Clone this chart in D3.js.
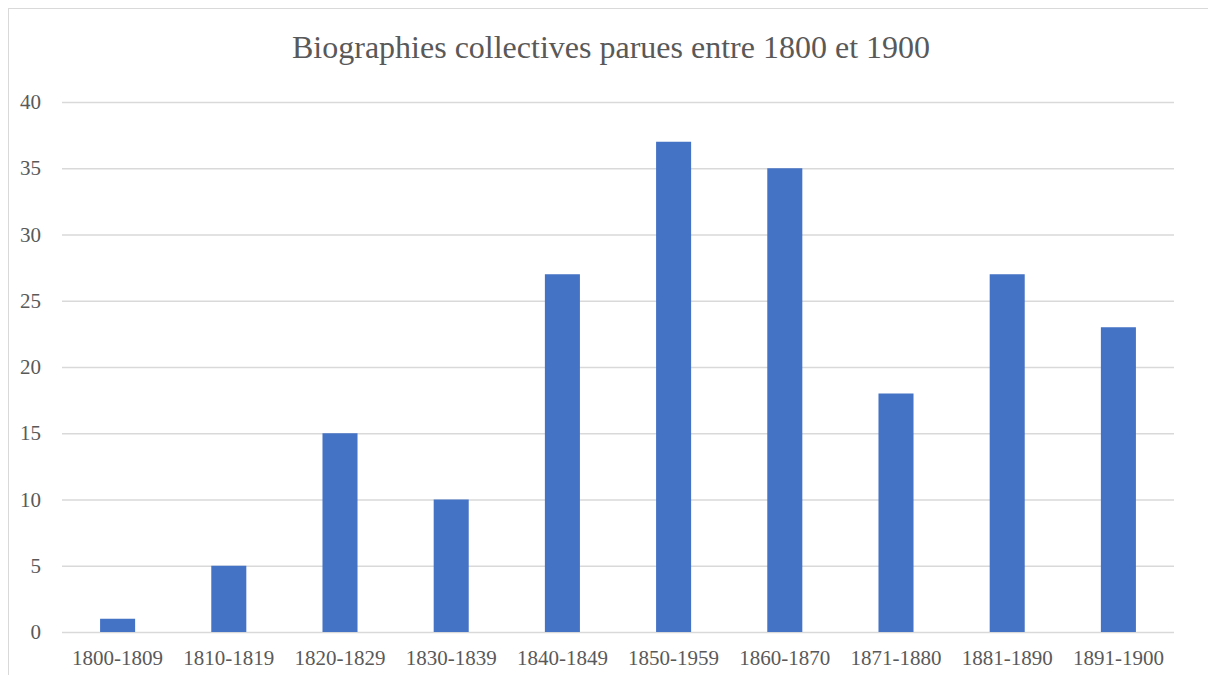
<!DOCTYPE html>
<html>
<head>
<meta charset="utf-8">
<script src="https://cdn.jsdelivr.net/npm/d3@7"></script>
<style>
  body { margin: 0; background: #fff; }
  svg { display: block; font-family: "Liberation Serif", "Times New Roman", serif; }
</style>
</head>
<body>
<svg id="chart" width="1208" height="675"></svg>
<script>
const periods = ["1800-1809", "1810-1819", "1820-1829", "1830-1839", "1840-1849",
                 "1850-1959", "1860-1870", "1871-1880", "1881-1890", "1891-1900"];
const counts = [1, 5, 15, 10, 27, 37, 35, 18, 27, 23];
const yTicks = [0, 5, 10, 15, 20, 25, 30, 35, 40];

const svg = d3.select("#chart");
const plotLeft = 62, plotRight = 1174, plotTop = 102, plotBottom = 632;

// chart frame (runs off the bottom/right of the picture)
svg.append("rect")
  .attr("x", 8.5).attr("y", 8.5)
  .attr("width", 1300).attr("height", 700)
  .attr("fill", "none").attr("stroke", "#d9d9d9").attr("stroke-width", 1);

svg.append("text")
  .attr("x", 611).attr("y", 57.5)
  .attr("text-anchor", "middle")
  .attr("font-size", 32)
  .attr("fill", "#595959")
  .text("Biographies collectives parues entre 1800 et 1900");

const x = d3.scaleBand().domain(periods).range([plotLeft, plotRight]).paddingInner(0.685).paddingOuter(0.3425);
const y = d3.scaleLinear().domain([0, 40]).range([plotBottom, plotTop]);

// gridlines
svg.append("g").selectAll("line")
  .data(yTicks)
  .enter().append("line")
  .attr("x1", plotLeft).attr("x2", plotRight)
  .attr("y1", d => y(d) + 0.5).attr("y2", d => y(d) + 0.5)
  .attr("stroke", "#d9d9d9").attr("stroke-width", 1.3);

// y labels
svg.append("g").selectAll("text")
  .data(yTicks)
  .enter().append("text")
  .attr("x", 41).attr("y", d => y(d) + 7)
  .attr("text-anchor", "end")
  .attr("font-size", 21).attr("fill", "#595959")
  .text(d => d);

// bars
svg.append("g").selectAll(".bar")
  .data(counts)
  .enter().append("rect")
  .attr("class", "bar")
  .attr("x", (d, i) => x(periods[i]))
  .attr("y", d => y(d))
  .attr("width", x.bandwidth())
  .attr("height", d => y(0) - y(d))
  .style("fill", "#4472c4");

// x labels
svg.append("g").selectAll("text")
  .data(periods)
  .enter().append("text")
  .attr("x", d => x(d) + x.bandwidth() / 2)
  .attr("y", 665)
  .attr("text-anchor", "middle")
  .attr("font-size", 21).attr("fill", "#595959")
  .text(d => d);
</script>
</body>
</html>
